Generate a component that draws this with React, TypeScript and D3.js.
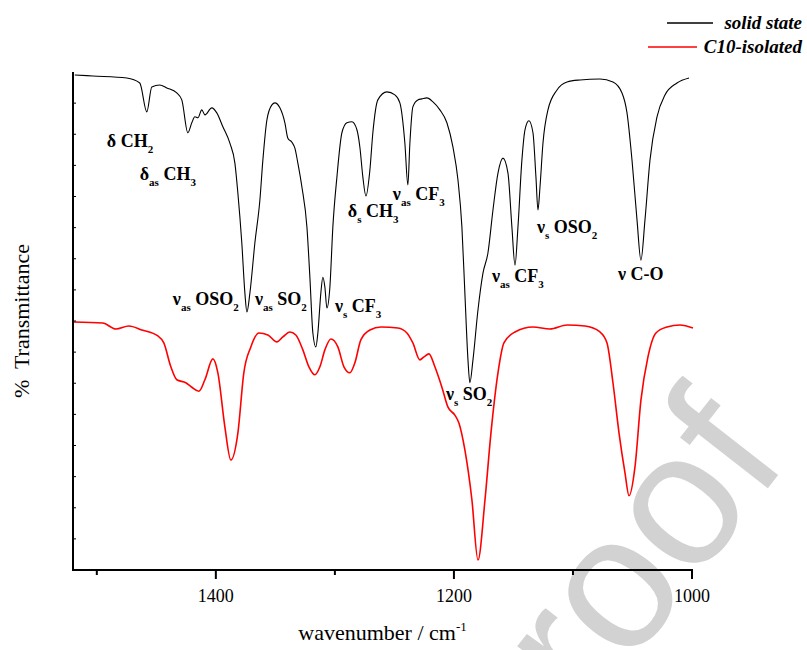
import * as d3 from "d3";
import { useEffect, useRef } from "react";

// wavenumber (cm-1) of the traced points, high to low
const solidWn = [1518.5, 1503.4, 1474.8, 1463.9, 1458, 1453.8, 1447.1, 1441.2, 1432.8, 1428.6, 1423.5, 1420.2, 1417.6, 1415.1, 1411.8, 1409.2, 1403.4, 1399.2, 1394.1, 1388.2, 1384.0, 1381.5, 1378.2, 1375.6, 1373.9, 1371.4, 1367.2, 1363.0, 1360.5, 1357.1, 1352.9, 1350.4, 1346.2, 1342.0, 1339.5, 1336.1, 1333.6, 1331.1, 1327.7, 1323.5, 1321.0, 1318.5, 1316.0, 1314.3, 1311.8, 1310.1, 1308.4, 1306.7, 1304.2, 1301.7, 1298.3, 1294.1, 1289.9, 1285.7, 1281.5, 1279.0, 1276.5, 1273.9, 1270.6, 1268.1, 1263.9, 1256.3, 1249.6, 1245.4, 1241.2, 1238.7, 1237.0, 1234.5, 1230.3, 1226.9, 1222.7, 1217.6, 1211.8, 1205.9, 1200.8, 1196.6, 1193.3, 1190.8, 1188.2, 1186.6, 1184.0, 1179.8, 1175.6, 1171.4, 1167.2, 1163.0, 1158.8, 1154.6, 1151.3, 1148.7, 1146.2, 1142.9, 1140.3, 1137.0, 1133.6, 1131.1, 1129.4, 1127.7, 1125.2, 1121.0, 1113.4, 1105.0, 1094.1, 1077.3, 1066.4, 1058.8, 1054.6, 1050.4, 1046.2, 1042.9, 1039.5, 1035.3, 1029.4, 1022.7, 1012.6, 1002.5];
// transmittance (arb. %) of the solid state spectrum
const solidT = [99.4, 99.2, 98.8, 97.8, 92.0, 97.0, 97.4, 96.8, 95.8, 94.4, 87.8, 89.8, 91.0, 90.8, 92.4, 91.4, 92.8, 91.8, 89.0, 85.7, 81.7, 75.7, 65.7, 55.6, 51.8, 55.6, 65.7, 74.3, 82.3, 90.4, 93.4, 93.8, 92.8, 89.8, 86.7, 85.9, 84.7, 81.7, 76.9, 68.9, 58.8, 47.6, 44.8, 47.6, 55.6, 58.8, 56.8, 52.6, 56.8, 68.9, 78.9, 87.8, 89.8, 90.0, 88.4, 84.9, 78.9, 75.1, 80.3, 87.8, 94.4, 96.0, 95.4, 93.8, 85.7, 77.3, 85.7, 93.0, 94.4, 94.6, 94.8, 94.0, 92.4, 89.8, 84.9, 78.3, 68.9, 55.6, 42.2, 37.6, 42.2, 52.2, 59.6, 63.7, 72.3, 79.7, 82.7, 79.7, 68.9, 61.2, 68.9, 82.3, 88.4, 90.2, 87.8, 78.9, 72.3, 76.9, 85.7, 92.4, 96.4, 98.0, 98.4, 98.6, 98.0, 95.8, 91.8, 82.3, 70.3, 62.2, 70.3, 82.3, 91.0, 95.4, 97.8, 98.8];

const isoWn = [1519.3, 1495.0, 1484.0, 1473.1, 1462.2, 1448.7, 1443.7, 1437.8, 1432.8, 1425.2, 1420.2, 1414.3, 1409.2, 1402.5, 1398.3, 1392.4, 1387.4, 1381.5, 1376.5, 1370.6, 1363.9, 1356.3, 1348.7, 1343.7, 1337.8, 1332.8, 1326.9, 1321.8, 1316.8, 1312.6, 1308.4, 1303.4, 1297.5, 1292.4, 1287.4, 1283.2, 1278.2, 1270.6, 1261.3, 1247.1, 1239.5, 1234.5, 1228.6, 1225.2, 1221.0, 1216.0, 1210.1, 1205.0, 1199.2, 1195.8, 1190.8, 1184.9, 1179.8, 1173.9, 1168.9, 1163.0, 1158.0, 1148.7, 1133.6, 1119.3, 1105.0, 1089.9, 1077.3, 1071.4, 1066.4, 1061.3, 1056.3, 1052.9, 1047.9, 1042.9, 1037.0, 1030.3, 1021.0, 1010.1, 999.2];
// transmittance (arb. %) of the C10-isolated spectrum
const isoT = [49.8, 49.6, 48.4, 49.0, 48.2, 47.0, 45.6, 40.8, 38.2, 37.6, 36.7, 35.9, 38.2, 42.4, 39.6, 28.7, 22.1, 27.5, 39.6, 44.8, 47.6, 47.2, 45.8, 46.8, 47.8, 47.2, 44.2, 40.8, 39.2, 40.8, 44.2, 46.4, 44.8, 40.8, 39.6, 41.6, 46.2, 48.2, 48.8, 48.6, 47.6, 45.6, 42.2, 42.8, 43.4, 40.8, 36.7, 32.7, 31.1, 29.5, 24.1, 14.1, 2.0, 14.1, 27.5, 39.6, 45.6, 47.8, 48.8, 48.4, 49.2, 49.0, 47.8, 45.6, 37.6, 27.5, 19.5, 14.9, 20.7, 34.1, 42.8, 47.6, 48.8, 49.2, 48.6];

const xTicks = [1500, 1400, 1300, 1200, 1100, 1000];
const xTickLabels = [1400, 1200, 1000];

// band assignments: [wavenumber, T, parts] — part with "_" is subscript
const bandLabels: [number, number, string[]][] = [
  [1491.6, 84.9, ["δ CH", "_2"]],
  [1463.9, 78.3, ["δ", "_as", " CH", "_3"]],
  [1436.1, 53.2, ["ν", "_as", " OSO", "_2"]],
  [1367.2, 53.2, ["ν", "_as", " SO", "_2"]],
  [1300.0, 51.8, ["ν", "_s", " CF", "_3"]],
  [1289.1, 70.9, ["δ", "_s", " CH", "_3"]],
  [1251.3, 74.3, ["ν", "_as", " CF", "_3"]],
  [1130.3, 67.7, ["ν", "_s", " OSO", "_2"]],
  [1168.1, 57.8, ["ν", "_as", " CF", "_3"]],
  [1062.2, 58.2, ["ν C-O"]],
  [1206.7, 34.1, ["ν", "_s", " SO", "_2"]],
];

const App = () => {
  const svgRef = useRef<SVGSVGElement>(null);

  const W = 807;
  const H = 650;
  const left = 73, right = 692, top = 72, bottom = 570;
  const serif = "'Liberation Serif', 'Times New Roman', serif";

  useEffect(() => {
    const svg = d3.select(svgRef.current);
    svg.selectAll("*").remove();

    const x = d3.scaleLinear().domain([1520, 1000]).range([left, right]);
    const y = d3.scaleLinear().domain([0, 100]).range([bottom, top]);

    // watermark
    svg.append("text")
      .attr("transform", "translate(790,460) rotate(-52)")
      .attr("text-anchor", "end")
      .style("font-family", "'Liberation Sans', Arial, sans-serif")
      .style("font-size", "190px")
      .style("fill", "#d2d2d2")
      .text("Journal Pre-proof");

    const line = d3.line<[number, number]>()
      .x(d => x(d[0]))
      .y(d => y(d[1]))
      .curve(d3.curveMonotoneX);

    svg.append("path")
      .datum(solidWn.map((w, i) => [w, solidT[i]] as [number, number]))
      .attr("d", line)
      .attr("fill", "none")
      .attr("stroke", "#000")
      .attr("stroke-width", 1.1);

    svg.append("path")
      .datum(isoWn.map((w, i) => [w, isoT[i]] as [number, number]))
      .attr("d", line)
      .attr("fill", "none")
      .attr("stroke", "#ff0000")
      .attr("stroke-width", 1.6);

    // x axis
    const xAxis = svg.append("g").attr("transform", `translate(0,${bottom})`);
    xAxis.append("line")
      .attr("x1", left - 1).attr("x2", right + 1)
      .attr("stroke", "#000").attr("stroke-width", 2);
    xTicks.forEach(t => {
      const major = xTickLabels.includes(t);
      xAxis.append("line")
        .attr("x1", x(t)).attr("x2", x(t))
        .attr("y1", 0).attr("y2", major ? 9 : 5)
        .attr("stroke", "#000").attr("stroke-width", 2);
      if (major) {
        xAxis.append("text")
          .attr("x", x(t)).attr("y", 32)
          .attr("text-anchor", "middle")
          .style("font-family", serif)
          .style("font-size", "18px")
          .text(t);
      }
    });

    // y axis
    const yAxis = svg.append("g");
    yAxis.append("line")
      .attr("x1", left).attr("x2", left)
      .attr("y1", top).attr("y2", bottom + 1)
      .attr("stroke", "#000").attr("stroke-width", 2);
    d3.range(6.25, 100, 6.25).forEach(t => {
      yAxis.append("line")
        .attr("x1", left).attr("x2", left + 3)
        .attr("y1", y(t)).attr("y2", y(t))
        .attr("stroke", "#000").attr("stroke-width", 1);
    });

    // axis titles
    const xt = svg.append("text")
      .attr("x", (left + right) / 2).attr("y", 640)
      .attr("text-anchor", "middle")
      .style("font-family", serif)
      .style("font-size", "22px");
    xt.append("tspan").text("wavenumber / cm");
    xt.append("tspan").attr("dy", -9).style("font-size", "13px").text("-1");

    svg.append("text")
      .attr("transform", `translate(29,${(top + bottom) / 2}) rotate(-90)`)
      .attr("text-anchor", "middle")
      .attr("xml:space", "preserve")
      .style("white-space", "pre")
      .style("font-family", serif)
      .style("font-size", "22px")
      .text("%  Transmittance");

    // band labels
    bandLabels.forEach(([w, t, parts]) => {
      const txt = svg.append("text")
        .attr("x", x(w)).attr("y", y(t))
        .style("font-family", serif)
        .style("font-weight", "bold")
        .style("font-size", "18px");
      let shift = 0;
      parts.forEach(p => {
        const sub = p.startsWith("_");
        const target = sub ? 6 : 0;
        txt.append("tspan")
          .attr("dy", target - shift)
          .style("font-size", sub ? "11px" : "18px")
          .style("white-space", "pre")
          .text(sub ? p.slice(1) : p);
        shift = target;
      });
    });

    // legend
    const legend = [
      { name: "solid state", color: "#000", x1: 667, x2: 713, y: 23 },
      { name: "C10-isolated", color: "#ff0000", x1: 648, x2: 697, y: 47 },
    ];
    legend.forEach(l => {
      svg.append("line")
        .attr("x1", l.x1).attr("x2", l.x2)
        .attr("y1", l.y).attr("y2", l.y)
        .attr("stroke", l.color).attr("stroke-width", 1.5);
      svg.append("text")
        .attr("x", 802).attr("y", l.y + 6)
        .attr("text-anchor", "end")
        .style("font-family", serif)
        .style("font-weight", "bold")
        .style("font-style", "italic")
        .style("font-size", "19px")
        .text(l.name);
    });
  }, []);

  return (
    <svg
      ref={svgRef}
      width={W}
      height={H}
      style={{ position: "absolute", left: 0, top: 0, background: "#fff" }}
    />
  );
};

export default App;
